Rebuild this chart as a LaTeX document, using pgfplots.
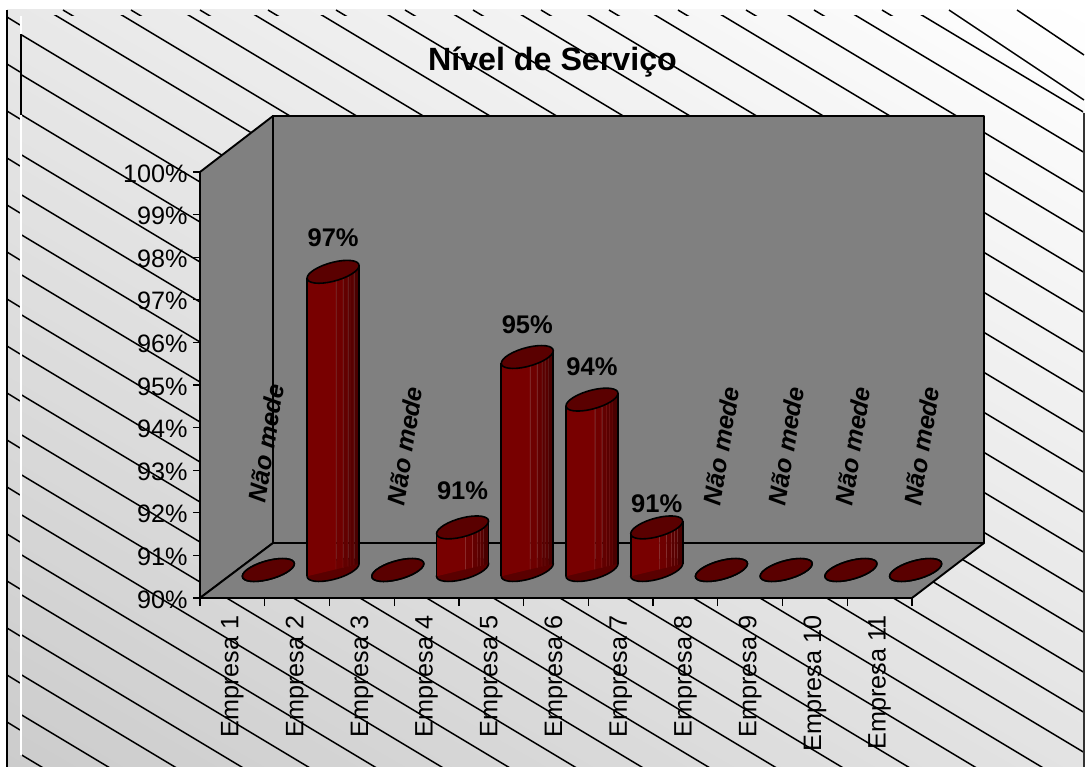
\documentclass[border=0pt]{standalone}
\usepackage{fontspec}
\setmainfont{Liberation Sans}
\usepackage{pgfplots}
\pgfplotsset{compat=1.18}
\usetikzlibrary{shadings}

\definecolor{wallgray}{HTML}{808080}
\definecolor{cyltop}{HTML}{5A0000}
\definecolor{cyla}{HTML}{780000}
\definecolor{cylb}{HTML}{6E0000}
\definecolor{cylc}{HTML}{620000}
\definecolor{cyld}{HTML}{580000}
\definecolor{cyle}{HTML}{4A0000}
\definecolor{cyll}{HTML}{8E3030}

% one vertical slice of a bar, from x=#1 to x=#2 (mark units), height \cylh
\def\cylslice#1#2#3{%
  \pgfsetfillcolor{#3}%
  \pgfpathmoveto{\pgfqpoint{#1pt}{0.24\dimexpr#1pt\relax}}%
  \pgfpathlineto{\pgfqpoint{#2pt}{0.24\dimexpr#2pt\relax}}%
  \pgfpathlineto{\pgfqpoint{#2pt}{\dimexpr0.24\dimexpr#2pt\relax-\cylh pt\relax}}%
  \pgfpathlineto{\pgfqpoint{#1pt}{\dimexpr0.24\dimexpr#1pt\relax-\cylh pt\relax}}%
  \pgfpathclose\pgfusepath{fill}}

% cylinder whose top centre is the data point, height comes from the y value
\pgfdeclareplotmark{cyl}{%
  \pgfsetlinewidth{1.6pt}%
  \pgfsetstrokecolor{black}%
  \pgfsetfillcolor{cyltop}%
  \pgfpathellipse{\pgfqpoint{0pt}{-\cylh pt}}{\pgfqpoint{25.5pt}{8pt}}{\pgfqpoint{-5pt}{8.2pt}}%
  \pgfusepath{fill,stroke}%
  \cylslice{-26}{3}{cyla}\cylslice{2.7}{3.3}{cyll}\cylslice{3.3}{10}{cylb}%
  \cylslice{9.7}{10.3}{cyll}\cylslice{10.3}{15}{cylc}\cylslice{14.7}{15.2}{cyll}%
  \cylslice{15.2}{18}{cyld}\cylslice{17.7}{18.1}{cyll}\cylslice{18.1}{21}{cyld}%
  \cylslice{20.8}{21.2}{cyll}\cylslice{21.2}{26}{cyle}%
  \pgfpathmoveto{\pgfqpoint{-26pt}{-6.3pt}}%
  \pgfpathlineto{\pgfqpoint{-26pt}{\dimexpr-6.3pt-\cylh pt\relax}}%
  \pgfpathmoveto{\pgfqpoint{26pt}{6.3pt}}%
  \pgfpathlineto{\pgfqpoint{26pt}{\dimexpr6.3pt-\cylh pt\relax}}%
  \pgfusepath{stroke}%
  \pgfsetfillcolor{cyltop}%
  \pgfpathellipse{\pgfqpoint{0pt}{0pt}}{\pgfqpoint{25.5pt}{8pt}}{\pgfqpoint{-5pt}{8.2pt}}%
  \pgfusepath{fill,stroke}%
}

\newcommand{\lab}{\fontsize{25.2}{26}\selectfont}
\newcommand{\val}{\fontsize{25.5}{26}\selectfont\bfseries}
\newcommand{\nm}{\fontsize{25}{25}\selectfont\bfseries\itshape}

\begin{document}
\begin{tikzpicture}
\useasboundingbox (0pt,0pt) rectangle (1085pt,-767pt);
\begin{scope}[x=1pt,y=-1pt]
  % chart area
  \shade[upper left=white!91!black,upper right=white,lower left=white!80!black,lower right=white!89!black]
    (7,10) rectangle (1085,767);
  \begin{scope}
    \clip (22,16) rectangle (1083,767);
    \foreach \k in {-14,...,19}
      \draw[black,line width=1.5pt] (0,22+40*\k) -- (1085,651+22+40*\k);
  \end{scope}
  \begin{scope}
    \clip (7,10) rectangle (1085,16);
    \foreach \s in {63,131,200,268,336,405,473,541,609,678,746,814,882}
      \draw[black,line width=1.5pt] (\s,10) -- (\s+20,22);
  \end{scope}
  \draw[black,line width=1.5pt] (949,10) -- (1084,100);
  \draw[black,line width=1.5pt] (1017,10) -- (1084,55);
  \foreach \j in {0,...,15}
    \draw[black,line width=1.5pt] (7,17+47*\j) -- (20,25+47*\j);
  \draw[white,line width=1.2pt] (21,16) -- (21,755);
  \draw[black,line width=1.5pt] (21,34) -- (21,115);
  \draw[black,line width=1.2pt] (7,10) -- (7,767);
  \draw[black!80,line width=1.4pt] (1084,113) -- (1084,767);
  % walls and floor
  \draw[fill=wallgray,line width=1.9pt,line join=round]
    (200,172) -- (273,116) -- (273,543) -- (200,598) -- cycle;
  \draw[fill=wallgray,line width=1.9pt,line join=round]
    (273,116) -- (984,116) -- (984,543) -- (273,543) -- cycle;
  \draw[fill=wallgray,line width=1.9pt,line join=round]
    (200,598) -- (273,543) -- (984,543) -- (912,598) -- cycle;
  \node[font=\fontsize{32.2}{33}\selectfont\bfseries] at (552.5,62) {Nível de Serviço};
\end{scope}

% front plane: the value axis and the categories
\begin{axis}[
  at={(200pt,-598pt)}, anchor=south west,
  scale only axis, width=712pt, height=426pt,
  xmin=0.5, xmax=11.5, ymin=90, ymax=100,
  axis x line=bottom, axis y line=left,
  axis line style={-,line width=1.9pt},
  tick align=outside,
  xtick={1,...,11},
  xticklabels={Empresa 1,Empresa 2,Empresa 3,Empresa 4,Empresa 5,Empresa 6,Empresa 7,Empresa 8,Empresa 9,Empresa 10,Empresa 11},
  minor xtick={0.5,1.5,...,11.5},
  major x tick style={draw=none},
  minor tick length=8pt,
  major tick length=7pt,
  tick style={black,line width=1.2pt},
  ytick={90,...,100},
  yticklabel={\pgfmathprintnumber{\tick}\%},
  /pgf/number format/assume math mode=true,
  tick label style={font=\lab},
  xticklabel style={rotate=90,anchor=east,xshift=-7pt},
  yticklabel style={xshift=-2pt,yshift=-1.5pt},
  clip=false,
]
\addplot[draw=none] coordinates {(1,90)};
\end{axis}

% bar plane, half way back on the floor
\begin{axis}[
  at={(236pt,-570pt)}, anchor=south west,
  scale only axis, width=712pt, height=426pt,
  xmin=0.5, xmax=11.5, ymin=90, ymax=100,
  hide axis, clip=false,
]
\addplot[scatter, only marks, mark=cyl,
  scatter/use mapped color={draw=black,fill=black},
  visualization depends on={(\thisrow{y}-90)*42.6 \as \cylh}]
  table[x=x,y=y] {
x y
1 90
2 97
3 90
4 91
5 95
6 94
7 91
8 90
9 90
10 90
11 90
};
\node[font=\val] at ([yshift=34pt]axis cs:2,97) {97\%};
\node[font=\val] at ([yshift=37pt]axis cs:4,91) {91\%};
\node[font=\val] at ([yshift=32pt]axis cs:5,95) {95\%};
\node[font=\val] at ([yshift=33pt]axis cs:6,94) {94\%};
\node[font=\val] at ([yshift=24pt]axis cs:7,91) {91\%};
\node[font=\nm,rotate=81] at ([xshift=-2pt,yshift=127pt]axis cs:1,90) {Não mede};
\node[font=\nm,rotate=81] at ([xshift=7pt,yshift=124pt]axis cs:3,90) {Não mede};
\node[font=\nm,rotate=81] at ([yshift=124pt]axis cs:8,90) {Não mede};
\node[font=\nm,rotate=81] at ([yshift=124pt]axis cs:9,90) {Não mede};
\node[font=\nm,rotate=81] at ([xshift=2pt,yshift=124pt]axis cs:10,90) {Não mede};
\node[font=\nm,rotate=81] at ([xshift=6pt,yshift=124pt]axis cs:11,90) {Não mede};
\end{axis}
\end{tikzpicture}
\end{document}
